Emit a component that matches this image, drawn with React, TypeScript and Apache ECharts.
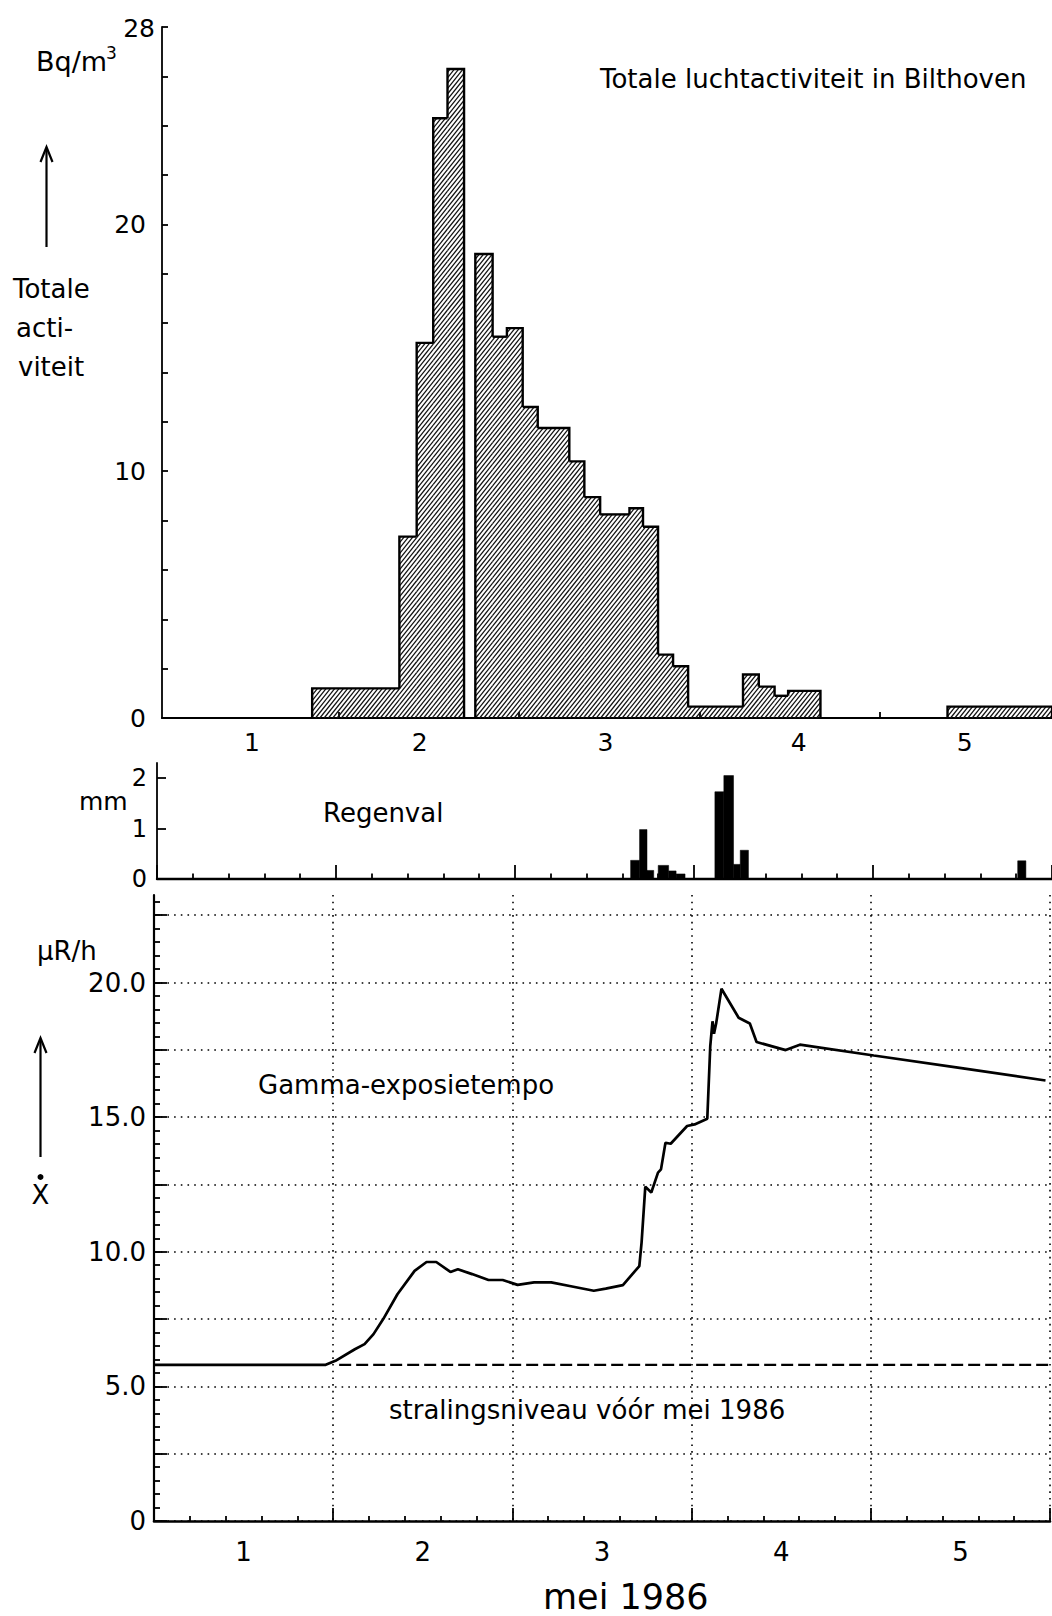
import React, { useEffect, useRef } from "react";
import * as echarts from "echarts";

const FONT = "'DejaVu Sans', 'Noto Sans', sans-serif";
const font = (size: number) => `${size}px 'DejaVu Sans', 'Noto Sans', sans-serif`;

// Totale luchtactiviteit in Bilthoven (Bq/m3) per bemonsteringsinterval.
// Interval bounds in hours after 1 mei 00:00.
const activityStartH = [20.5, 32.1, 34.4, 36.6, 38.5, 42.2, 44.5, 46.4, 48.5, 50.5, 54.7, 56.7, 58.8, 62.7, 64.5, 66.5, 68.5, 70.5, 77.8, 79.9, 82.0, 83.8, 105.0];
const activityEndH = [32.1, 34.4, 36.6, 38.5, 40.7, 44.5, 46.4, 48.5, 50.5, 54.7, 56.7, 58.8, 62.7, 64.5, 66.5, 68.5, 70.5, 77.8, 79.9, 82.0, 83.8, 88.1, 118.9];
const activityValue = [1.2, 7.35, 15.2, 24.3, 26.3, 18.8, 15.45, 15.8, 12.6, 11.75, 10.4, 8.95, 8.25, 8.5, 7.75, 2.57, 2.1, 0.46, 1.76, 1.27, 0.9, 1.1, 0.46];

// Regenval (mm) per interval, hours after 1 mei 00:00.
const rainStartH = [63.5, 64.7, 65.7, 67.2, 68.6, 69.6, 74.8, 76.0, 77.3, 78.2, 115.4];
const rainEndH = [64.7, 65.7, 66.6, 68.6, 69.6, 70.8, 76.0, 77.3, 78.2, 79.3, 116.5];
const rainValue = [0.37, 0.98, 0.17, 0.27, 0.16, 0.1, 1.73, 2.05, 0.29, 0.57, 0.36];

// Gamma-exposietempo (µR/h).
const gammaHours = [0, 23.0, 24.3, 26.9, 28.2, 29.4, 30.7, 32.6, 34.9, 36.5, 37.8, 39.7, 40.7, 42.6, 44.8, 46.7, 48.7, 50.9, 53.2, 56.0, 58.9, 60.5, 62.8, 65.0, 65.3, 65.8, 66.6, 67.5, 67.9, 68.5, 69.2, 71.4, 72.4, 74.1, 74.5, 74.8, 75.0, 75.3, 76.0, 78.3, 79.8, 80.7, 84.6, 86.5, 96.4, 107.9, 119.4];
const gammaValues = [5.8, 5.8, 5.95, 6.38, 6.57, 6.94, 7.5, 8.42, 9.29, 9.62, 9.62, 9.25, 9.35, 9.17, 8.95, 8.95, 8.77, 8.86, 8.86, 8.71, 8.55, 8.63, 8.76, 9.47, 10.34, 12.42, 12.2, 12.94, 13.06, 14.05, 14.01, 14.67, 14.73, 14.94, 17.64, 18.56, 18.1, 18.5, 19.77, 18.69, 18.48, 17.79, 17.49, 17.69, 17.29, 16.83, 16.36];

// Stralingsniveau vóór mei 1986.
const preLevel = 5.8;
const preLevelFromH = 24.8;
const periodEndH = 120;

// Axis ticks and labels (x in days after 1 mei 00:00).
const dayLabels = ["1", "2", "3", "4", "5"];
const topDayLabelPos = [0.52, 1.45, 2.48, 3.55, 4.47];
const dayCentres = [0.5, 1.5, 2.5, 3.5, 4.5];
const dayBounds = [1, 2, 3, 4];
const activityLabels = [0, 10, 20];
const rainTicks = [0, 1, 2];
const gammaMajorTicks = [0, 2.5, 5, 7.5, 10, 12.5, 15, 17.5, 20, 22.5];
const gammaLabels = [0, 5, 10, 15, 20];
const gammaMinorTicks = Array.from({ length: 47 }, (_, i) => i * 0.5);

const BLACK = "#000";

function neighbourValue(starts: number[], ends: number[], values: number[], i: number, side: "left" | "right") {
  const j = side === "left"
    ? ends.findIndex((e) => Math.abs(e - starts[i]) < 1e-6)
    : starts.findIndex((s) => Math.abs(s - ends[i]) < 1e-6);
  return j >= 0 ? values[j] : 0;
}

const activityData = activityValue.map((v, i) => [
  activityStartH[i] / 24,
  activityEndH[i] / 24,
  v,
  neighbourValue(activityStartH, activityEndH, activityValue, i, "left"),
  neighbourValue(activityStartH, activityEndH, activityValue, i, "right"),
]);

const rainData = rainValue.map((v, i) => [rainStartH[i] / 24, rainEndH[i] / 24, v]);

const gammaData = gammaHours.map((h, i) => [h / 24, gammaValues[i]]);

// Hatched step bar with outline only where it stands above its neighbours.
function renderHatchedBar(_params: any, api: any) {
  const x0 = api.value(0);
  const x1 = api.value(1);
  const v = api.value(2);
  const lv = api.value(3);
  const rv = api.value(4);
  const pb = api.coord([x0, 0]);
  const pt = api.coord([x1, v]);
  const xl = pb[0];
  const yb = pb[1];
  const xr = pt[0];
  const yt = pt[1];
  const yl = api.coord([x0, Math.min(lv, v)])[1];
  const yr = api.coord([x1, Math.min(rv, v)])[1];
  const children: any[] = [];
  const k = 1.25;
  const s = 5.4;
  const cMin = yt + k * xl;
  const cMax = yb + k * xr;
  for (let c = Math.ceil(cMin / s) * s; c <= cMax; c += s) {
    const xa = Math.max(xl, (c - yb) / k);
    const xb = Math.min(xr, (c - yt) / k);
    if (xb - xa > 0.3) {
      children.push({
        type: "line",
        silent: true,
        shape: { x1: xa, y1: c - k * xa, x2: xb, y2: c - k * xb },
        style: { stroke: "#111", lineWidth: 1.25 },
      });
    }
  }
  children.push({
    type: "polyline",
    silent: true,
    shape: { points: [[xl, yl], [xl, yt], [xr, yt], [xr, yr]] },
    style: { stroke: BLACK, lineWidth: 2.4, fill: "none" },
  });
  return { type: "group", children };
}

function renderRainBar(_params: any, api: any) {
  const pb = api.coord([api.value(0), 0]);
  const pt = api.coord([api.value(1), api.value(2)]);
  return {
    type: "rect",
    silent: true,
    shape: { x: pb[0], y: pt[1], width: pt[0] - pb[0], height: pb[1] - pt[1] },
    style: { fill: BLACK, stroke: BLACK, lineWidth: 0.5 },
  };
}

const axisLineStyle = (width: number) => ({ show: true, lineStyle: { color: BLACK, width } });
const tickStyle = { color: BLACK, width: 1.8 };
const dotted = { color: BLACK, width: 1.6, type: [1.6, 5.1] as any };

const text = (x: number, y: number, str: string, size: number, align = "left") => ({
  type: "text",
  x,
  y,
  silent: true,
  style: { text: str, font: font(size), fill: BLACK, textAlign: align, textVerticalAlign: "middle" },
});

const upArrow = (x: number, yTop: number, yBottom: number) => [
  { type: "line", silent: true, shape: { x1: x, y1: yTop + 1, x2: x, y2: yBottom }, style: { stroke: BLACK, lineWidth: 2.2 } },
  { type: "polyline", silent: true, shape: { points: [[x - 6, yTop + 15], [x, yTop], [x + 6, yTop + 15]] }, style: { stroke: BLACK, lineWidth: 2.2, fill: "none" } },
];

const option: any = {
  animation: false,
  backgroundColor: "#fff",
  textStyle: { fontFamily: FONT, color: BLACK },
  grid: [
    { left: 162, top: 27, width: 890, height: 691 },
    { left: 157, top: 763, width: 895, height: 116 },
    { left: 154, top: 895, width: 896, height: 626 },
  ],
  xAxis: [
    {
      gridIndex: 0,
      type: "value",
      min: 0.022,
      max: 4.954,
      axisLine: axisLineStyle(2.2),
      axisTick: { show: true, customValues: dayBounds, inside: true, length: 6, lineStyle: tickStyle },
      axisLabel: {
        customValues: topDayLabelPos,
        formatter: (v: number) => dayLabels[Math.floor(v)],
        margin: 12,
        fontSize: 25,
        color: BLACK,
        fontFamily: FONT,
      },
      splitLine: { show: false },
    },
    {
      gridIndex: 1,
      type: "value",
      min: 0,
      max: 5,
      interval: 1,
      axisLine: axisLineStyle(2.4),
      axisTick: { show: true, inside: true, length: 14, lineStyle: tickStyle },
      minorTick: { show: true, splitNumber: 5, length: 5.5, lineStyle: tickStyle },
      axisLabel: { show: false },
      splitLine: { show: false },
    },
    {
      gridIndex: 2,
      type: "value",
      min: 0,
      max: 5,
      interval: 1,
      axisLine: axisLineStyle(2.6),
      axisTick: { show: true, inside: true, length: 13, lineStyle: tickStyle },
      minorTick: { show: true, splitNumber: 5, length: 5, lineStyle: tickStyle },
      axisLabel: {
        customValues: dayCentres,
        formatter: (v: number) => dayLabels[Math.floor(v)],
        margin: 18,
        fontSize: 26,
        color: BLACK,
        fontFamily: FONT,
      },
      splitLine: { show: true, lineStyle: dotted },
    },
  ],
  yAxis: [
    {
      gridIndex: 0,
      type: "value",
      min: 0,
      max: 28,
      interval: 2,
      axisLine: axisLineStyle(1.8),
      axisTick: { show: true, inside: true, length: 6, lineStyle: tickStyle },
      axisLabel: { customValues: activityLabels, margin: 16, fontSize: 25, color: BLACK, fontFamily: FONT },
      splitLine: { show: false },
    },
    {
      gridIndex: 1,
      type: "value",
      min: 0,
      max: 2.3,
      axisLine: axisLineStyle(1.8),
      axisTick: { show: true, customValues: rainTicks, inside: true, length: 9, lineStyle: tickStyle },
      axisLabel: { customValues: rainTicks, margin: 10, fontSize: 24, color: BLACK, fontFamily: FONT },
      splitLine: { show: false },
    },
    {
      gridIndex: 2,
      type: "value",
      position: "left",
      min: 0,
      max: 23.25,
      interval: 2.5,
      axisLine: axisLineStyle(2.2),
      axisTick: { show: true, customValues: gammaMajorTicks, inside: true, length: 13, lineStyle: tickStyle },
      axisLabel: {
        customValues: gammaLabels,
        formatter: (v: number) => (v === 0 ? "0" : v.toFixed(1)),
        margin: 8,
        fontSize: 26,
        color: BLACK,
        fontFamily: FONT,
      },
      splitLine: { show: true, lineStyle: dotted },
    },
    {
      gridIndex: 2,
      type: "value",
      position: "left",
      min: 0,
      max: 23.25,
      axisLine: { show: false },
      axisTick: { show: true, customValues: gammaMinorTicks, inside: true, length: 6, lineStyle: tickStyle },
      axisLabel: { show: false },
      splitLine: { show: false },
    },
  ],
  series: [
    {
      name: "Totale luchtactiviteit",
      type: "custom",
      xAxisIndex: 0,
      yAxisIndex: 0,
      renderItem: renderHatchedBar,
      data: activityData,
      encode: { x: [0, 1], y: 2 },
      silent: true,
    },
    {
      name: "Regenval",
      type: "custom",
      xAxisIndex: 1,
      yAxisIndex: 1,
      renderItem: renderRainBar,
      data: rainData,
      encode: { x: [0, 1], y: 2 },
      silent: true,
    },
    {
      name: "Gamma-exposietempo",
      type: "line",
      xAxisIndex: 2,
      yAxisIndex: 2,
      data: gammaData,
      symbol: "none",
      lineStyle: { color: BLACK, width: 2.7 },
      silent: true,
    },
    {
      name: "stralingsniveau vóór mei 1986",
      type: "line",
      xAxisIndex: 2,
      yAxisIndex: 2,
      data: [
        [preLevelFromH / 24, preLevel],
        [periodEndH / 24, preLevel],
      ],
      symbol: "none",
      lineStyle: { color: BLACK, width: 2.4, type: [12, 5] },
      silent: true,
    },
  ],
  graphic: [
    text(36, 61, "Bq/m", 27),
    text(106, 53, "3", 17),
    text(155, 28, "28", 25, "right"),
    ...upArrow(46.5, 147, 247),
    text(13, 289, "Totale", 26),
    text(16, 328, "acti-", 26),
    text(18, 367, "viteit", 26),
    text(600, 79, "Totale luchtactiviteit in Bilthoven", 26),
    text(79, 801, "mm", 25),
    text(323, 813, "Regenval", 26),
    text(37, 951, "μR/h", 26),
    ...upArrow(40.5, 1038, 1157),
    { type: "circle", silent: true, shape: { cx: 40.5, cy: 1177, r: 3 }, style: { fill: BLACK } },
    text(40.5, 1195, "X", 26, "center"),
    text(258, 1085, "Gamma-exposietempo", 26),
    text(389, 1410, "stralingsniveau vóór mei 1986", 26),
    text(543, 1597, "mei 1986", 35),
  ],
};

export default function App() {
  const ref = useRef<HTMLDivElement>(null);
  useEffect(() => {
    document.body.style.margin = "0";
    const chart = echarts.init(ref.current as HTMLDivElement, null, { renderer: "svg" });
    chart.setOption(option);
    return () => chart.dispose();
  }, []);
  return <div ref={ref} style={{ width: 1052, height: 1616, background: "#fff" }} />;
}
